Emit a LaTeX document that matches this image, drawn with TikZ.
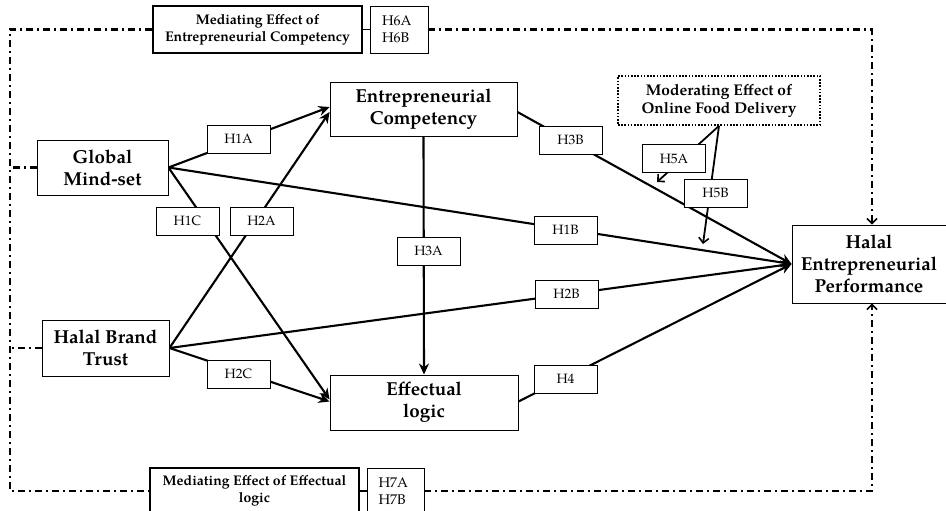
\documentclass[tikz,border=0pt]{standalone}
\usepackage{fontspec}
\setmainfont{TeX Gyre Pagella}
\usetikzlibrary{arrows.meta,calc}
\pgfdeclarelayer{bg}
\pgfsetlayers{bg,main}
\begin{document}
\begin{tikzpicture}[x=1pt,y=-1pt,
 box/.style={draw, line width=0.9pt, fill=white, align=center, inner sep=0pt, font=\fontsize{18.8}{22}\selectfont\bfseries},
 lbl/.style={draw, line width=0.9pt, fill=white, inner sep=0pt, minimum width=63pt, minimum height=28pt, font=\fontsize{13.5}{17}\selectfont},
 medbox/.style={draw, line width=1.8pt, fill=white, align=center, inner sep=0pt, font=\fontsize{14}{17}\selectfont\bfseries},
 hbox/.style={draw, line width=0.9pt, fill=white, align=left, inner sep=0pt, font=\fontsize{14}{17}\selectfont},
 arr/.style={line width=2.1pt, -{Stealth[length=11pt,width=10pt]}},
 modarr/.style={line width=1.8pt, -{Straight Barb[length=5pt,width=10pt,line width=1.6pt]}},
 link/.style={line width=1.6pt},
 ddot/.style={line width=2.2pt, dash pattern=on 7pt off 4pt on 2pt off 4pt},
 ddarr/.style={ddot, -{Straight Barb[length=5pt,width=10pt,line width=1.6pt]}},
]
\useasboundingbox (0,0) rectangle (946,511);

% main boxes
\node[box, minimum width=187pt, minimum height=54pt] (EC) at (423.5,109) {Entrepreneurial\\Competency};
\node[box, minimum width=131pt, minimum height=55pt] (GM) at (102.5,167.5) {Global\\Mind-set};
\node[box, minimum width=127pt, minimum height=56pt] (HBT) at (105.5,348) {Halal Brand\\Trust};
\node[box, minimum width=188pt, minimum height=55pt] (EL) at (424,402.5) {Effectual\\logic};
\node[box, minimum width=154pt, minimum height=78pt] (HEP) at (869,264) {Halal\\Entrepreneurial\\Performance};
\node[draw, line width=1.8pt, dash pattern=on 1.6pt off 1.6pt, fill=white, align=center, inner sep=0pt,
      minimum width=202pt, minimum height=49pt, font=\fontsize{15.5}{18}\selectfont\bfseries]
      (MOD) at (719,100.5) {Moderating Effect of\\Online Food Delivery};

% mediating boxes
\node[medbox, minimum width=209pt, minimum height=47pt] (medEC) at (257.5,29.5) {Mediating Effect of\\Entrepreneurial Competency};
\node[hbox, minimum width=58pt, minimum height=47pt, text width=34pt] (H6) at (399,29.5) {H6A\\H6B};
\node[medbox, minimum width=209pt, minimum height=46pt] (medEL) at (254.5,491) {Mediating Effect of Effectual\\logic};
\node[hbox, minimum width=57pt, minimum height=46pt, text width=34pt] (H7) at (395.5,491) {H7A\\H7B};

% labels
\node[lbl] (H1A) at (238.5,139) {H1A};
\node[lbl] (H1C) at (187.5,221) {H1C};
\node[lbl] (H2A) at (261.5,221) {H2A};
\node[lbl] (H3A) at (428.5,251) {H3A};
\node[lbl] (H3B) at (570.5,140) {H3B};
\node[lbl] (H5A) at (674,158.5) {H5A};
\node[lbl] (H5B) at (715.5,193) {H5B};
\node[lbl] (H1B) at (565.5,230) {H1B};
\node[lbl] (H2B) at (566.5,294) {H2B};
\node[lbl] (H2C) at (238.5,374) {H2C};
\node[lbl] (H4) at (565.5,379) {H4};

\coordinate (tl) at (10,30);
\coordinate (tr) at (872,30);
\coordinate (bl) at (10,491);
\coordinate (br) at (872,491);
\coordinate (m5a) at (657,182);
\coordinate (m5b) at (703,244);

\begin{pgfonlayer}{bg}
% frame
\draw[ddot] (medEC.west) -- (medEC.west -| tl) -- (bl) -- (medEL.west);
\draw[ddarr] (H6.east) -- (H6.east -| tr) -- (tr |- HEP.north);
\draw[ddarr] (H7.east) -- (H7.east -| br) -- (br |- HEP.south);
\draw[link] (medEC.east) -- (H6.west);
\draw[link] (medEL.east) -- (H7.west);
\draw[ddot] (GM.west) -- (GM.west -| tl);
\draw[ddot] (HBT.west) -- (HBT.west -| tl);
% paths
\draw[arr] (GM.east) -- ([yshift=2pt]EC.west);
\draw[arr] (GM.east) -- ([yshift=3pt]EL.west);
\draw[arr] (GM.east) -- (HEP.west);
\draw[arr] (HBT.east) -- ([yshift=-3pt]EC.west);
\draw[arr] (HBT.east) -- (HEP.west);
\draw[arr] (HBT.east) -- ([yshift=1pt]EL.west);
\draw[arr] ([yshift=-3pt]EC.east) -- (HEP.west);
\draw[arr] (EC.south) -- (EL.north);
\draw[arr] ([yshift=1pt]EL.east) -- (HEP.west);
\draw[modarr] (MOD.south) -- (m5a);
\draw[modarr] (MOD.south) -- (m5b);
\end{pgfonlayer}
\end{tikzpicture}
\end{document}
